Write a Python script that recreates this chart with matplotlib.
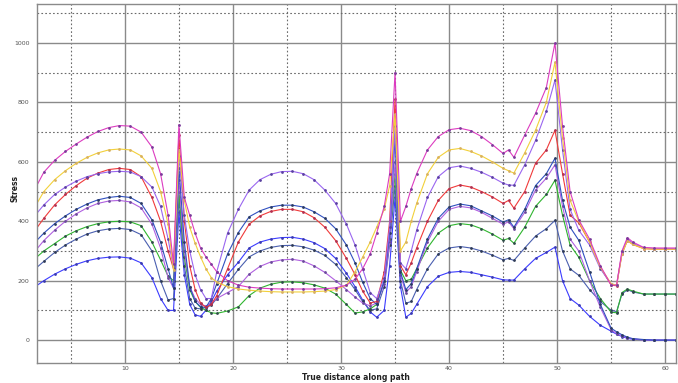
import matplotlib.pyplot as plt
from matplotlib.ticker import MultipleLocator

# path positions shared by all result sets
dist = [1.7, 2.5, 3.5, 4.5, 5.5, 6.5, 7.5, 8.5, 9.5, 10.5, 11.5, 12.5, 13.3, 14.0,
        14.5, 15.0, 15.5, 16.0, 16.5, 17.0, 17.5, 18.0, 18.5,
        19.5, 20.5, 21.5, 22.5, 23.5, 24.5, 25.5, 26.5, 27.5, 28.5, 29.5, 30.5,
        31.3, 32.0, 32.7, 33.3, 34.0, 34.5, 35.0, 35.5, 36.0, 36.5, 37.0,
        38.0, 39.0, 40.0, 41.0, 42.0, 43.0, 44.0, 45.0, 45.5, 46.0,
        47.0, 48.0, 49.0, 49.8,
        50.5, 51.2, 52.0, 53.0, 54.0, 55.0, 55.5, 56.0, 56.5, 57.0, 58.0, 59.0, 60.0, 61.0]

magenta = [510, 565, 605, 635, 660, 683, 702, 715, 722, 720, 700, 650, 560, 420,
           255, 725, 480, 420, 360, 310, 280, 255, 230,
           200, 185, 178, 175, 173, 172, 172, 172, 172, 173, 176, 185,
           205, 240, 290, 360, 450, 560, 900, 400, 450, 510, 560,
           640, 685, 708, 713, 705, 685, 658, 628, 640, 615,
           690, 763, 850, 1000,
           720, 500, 405, 340, 250, 185, 185, 300, 345, 330, 312, 310, 310, 310]

yellow = [450, 500, 540, 570, 595, 615, 630, 640, 643, 640, 620, 578, 500, 390,
          235, 640, 470, 380, 326, 280, 240, 210, 195,
          180, 172, 168, 165, 163, 162, 162, 162, 163, 165, 170, 185,
          230, 279, 330, 380, 440, 520, 760, 300, 330, 400, 460,
          560, 615, 640, 645, 635, 620, 600, 578, 570, 562,
          630, 706, 800, 935,
          680, 470, 400, 330, 245, 190, 185, 290, 335, 322, 308, 306, 306, 306]

violet = [420, 455, 490, 515, 535, 550, 560, 566, 568, 566, 550, 515, 450, 340,
          240, 620, 420, 300, 220, 170, 140, 140, 230,
          360, 440, 505, 540, 558, 567, 568, 560, 540, 505, 460, 390,
          320, 240, 160, 140, 210, 380, 720, 260, 240, 300, 370,
          480, 550, 580, 586, 578, 565, 548, 528, 522, 521,
          590, 672, 770, 875,
          640, 440, 370, 320, 240, 188, 186, 295, 340, 326, 310, 308, 308, 308]

red = [370, 410, 455, 490, 520, 545, 562, 574, 578, 574, 550, 480, 400, 300,
       240, 690, 400, 250, 170, 125, 110, 120, 150,
       240, 330, 390, 418, 433, 440, 440, 432, 412, 380, 335, 275,
       220, 165, 125, 130, 230, 400, 810, 250, 220, 260, 310,
       400, 470, 510, 522, 515, 500, 482, 460, 470, 444,
       500, 595, 640, 706,
       560, 420, 395, 330, 245, 185, 183, 290, 335, 322, 308, 306, 306, 306]

dark_blue = [330, 360, 392, 418, 440, 458, 472, 480, 484, 480, 460, 405, 330, 240,
             175, 580, 330, 180, 130, 112, 110, 140, 190,
             290, 362, 415, 435, 448, 454, 454, 448, 432, 410, 375, 320,
             260, 195, 140, 120, 200, 360, 680, 230, 170, 190, 240,
             340, 410, 448, 458, 452, 435, 418, 397, 405, 380,
             440, 520, 560, 612,
             470, 380, 336, 230, 120, 40, 28, 18, 10, 5, 2, 0, 0, 0]

violet2 = [300, 335, 370, 400, 425, 445, 460, 468, 470, 465, 445, 390, 310, 210,
           175, 540, 300, 180, 140, 120, 115, 125, 140,
           160, 180, 222, 248, 263, 270, 272, 266, 250, 228, 200, 170,
           145, 125, 115, 125, 190, 330, 600, 220, 160, 180, 230,
           330, 400, 440, 450, 445, 430, 410, 390, 398, 375,
           430, 505, 545, 590,
           450, 340, 300, 200, 110, 35, 22, 14, 8, 4, 1, 0, 0, 0]

green = [275, 300, 325, 350, 368, 382, 392, 398, 400, 398, 385, 330, 270, 215,
         200, 500, 280, 170, 130, 110, 100, 92, 90,
         98, 112, 150, 175, 188, 195, 196, 193, 186, 175, 155, 120,
         91, 95, 105, 120, 200, 340, 560, 235, 200, 205, 240,
         310, 360, 385, 392, 388, 375, 357, 336, 342, 326,
         380, 450, 490, 538,
         420, 320, 279, 200, 140, 94, 92, 160, 172, 165, 155, 155, 155, 155]

slate = [240, 265, 295, 320, 340, 357, 368, 374, 376, 372, 355, 300, 200, 135,
         140, 480, 250, 140, 108, 105, 110, 118, 140,
         190, 238, 280, 300, 312, 318, 319, 314, 303, 285, 255, 210,
         170, 130, 101, 105, 180, 320, 520, 200, 124, 130, 170,
         240, 290, 310, 315, 310, 300, 286, 270, 275, 268,
         310, 350, 375, 403,
         300, 240, 218, 170, 130, 100, 96, 155, 170, 162, 155, 155, 155, 155]

blue = [180, 200, 222, 240, 255, 267, 275, 279, 280, 276, 260, 210, 140, 100,
        100, 430, 220, 120, 85, 80, 100, 130, 165,
        220, 262, 310, 330, 340, 345, 346, 340, 328, 308, 275, 225,
        180, 135, 95, 77, 100, 250, 480, 180, 77, 90, 120,
        180, 215, 228, 231, 228, 220, 212, 203, 202, 202,
        240, 275, 295, 313,
        200, 140, 118, 80, 50, 30, 20, 12, 6, 3, 1, 0, 0, 0]

series = [
    (blue, '#3b3bff', '#3a3ab0'),
    (slate, '#4a5fb0', '#2e3a55'),
    (green, '#2fb52f', '#2e4a48'),
    (violet2, '#b060e0', '#6a4a9a'),
    (dark_blue, '#3050c0', '#2a3a60'),
    (red, '#f03a3a', '#b03050'),
    (violet, '#9a66f0', '#5a40a0'),
    (yellow, '#f2d03a', '#d8b060'),
    (magenta, '#dc3cc0', '#7a3a9a'),
]

fig = plt.figure(figsize=(6.78, 3.83), dpi=100)
ax = fig.add_axes([36.5 / 678, 1 - 363 / 383, (676 - 36.5) / 678, (363 - 4) / 383])

for vals, lc, mc in series:
    ax.plot(dist, vals, color=lc, lw=0.8, marker='o', ms=2.0,
            mfc=mc, mec=mc, mew=0)

ax.set_xlim(1.82, 61.0)
ax.set_ylim(-77, 1131)
ax.xaxis.set_major_locator(MultipleLocator(10))
ax.xaxis.set_minor_locator(MultipleLocator(5))
ax.yaxis.set_major_locator(MultipleLocator(200))
ax.yaxis.set_minor_locator(MultipleLocator(100))
ax.grid(which='major', color='#8a8a8a', lw=1.0, ls='-')
ax.grid(which='minor', color='#6a6a6a', lw=0.8, ls=(0, (1.5, 2)))
ax.set_axisbelow(True)
ax.tick_params(which='both', length=0, labelsize=4.5, labelcolor='#555555')
ax.tick_params(axis='x', pad=2.5)
ax.tick_params(axis='y', pad=5)
for s in ax.spines.values():
    s.set_color('#8a8a8a')
    s.set_linewidth(1.0)

fig.text(356 / 678, 1 - 377 / 383, 'True distance along path', ha='center', va='center',
         fontsize=5.5, fontweight='bold', color='#222222')
fig.text(15 / 678, 1 - 188 / 383, 'Stress', ha='center', va='center', rotation=90,
         fontsize=5.5, fontweight='bold', color='#222222')

fig.savefig('out.png', dpi=100)
